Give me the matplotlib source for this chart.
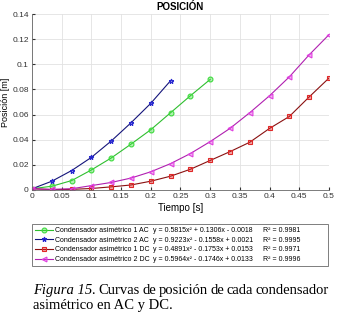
import matplotlib.pyplot as plt

plt.rcParams['font.family'] = ['Liberation Sans', 'DejaVu Sans']

# tiempo [s], muestras cada 1/30 s
t = [i / 30 for i in range(16)]

pos_1ac = [0.001, 0.003, 0.0075, 0.016, 0.0255, 0.0365, 0.048, 0.0615, 0.075, 0.088]
pos_2ac = [0.001, 0.007, 0.0155, 0.026, 0.039, 0.0535, 0.069, 0.087]
pos_1dc = [0.001, 0.0003, 0.0005, 0.0012, 0.0025, 0.004, 0.007, 0.011,
           0.0165, 0.0235, 0.0305, 0.038, 0.049, 0.0585, 0.074, 0.089]
pos_2dc = [0.001, 0.0005, 0.001, 0.0035, 0.006, 0.0095, 0.0145, 0.021,
           0.029, 0.0385, 0.049, 0.0615, 0.075, 0.09, 0.1075, 0.1235]

names = ["Condensador asimétrico 1 AC", "Condensador asimétrico 2 AC",
         "Condensador asimétrico 1 DC", "Condensador asimétrico 2 DC"]
equations = ["y = 0.5815x² + 0.1306x - 0.0018", "y = 0.9223x² - 0.1558x + 0.0021",
             "y = 0.4891x² - 0.1753x + 0.0153", "y = 0.5964x² - 0.1746x + 0.0133"]
r2 = ["R² = 0.9981", "R² = 0.9995", "R² = 0.9971", "R² = 0.9996"]

xticks = [0, 0.05, 0.1, 0.15, 0.2, 0.25, 0.3, 0.35, 0.4, 0.45, 0.5]
xticklabels = ["0", "0.05", "0.1", "0.15", "0.2", "0.25", "0.3", "0.35", "0.4", "0.45", "0.5"]
yticks = [0, 0.02, 0.04, 0.06, 0.08, 0.1, 0.12, 0.14]
yticklabels = ["0", "0.02", "0.04", "0.06", "0.08", "0.1", "0.12", "0.14"]

caption_bold = "Figura 15."
caption_1 = "Curvas de posición de cada condensador"
caption_2 = "asimétrico en AC y DC."

fig = plt.figure(figsize=(3.38, 3.13), dpi=100)
ax = fig.add_axes([0.095, 0.393, 0.878, 0.562])

series = [(pos_1ac, '#3ddc3d', '#2fbf2f', 'o'),
          (pos_2ac, '#2828d0', '#14147a', '*'),
          (pos_1dc, '#e02828', '#8a1010', 's'),
          (pos_2dc, '#e040e0', '#b020b0', '<')]
handles = []
for y, c, lc, m in series:
    h, = ax.plot(t[:len(y)], y, color=lc, lw=0.8, marker=m, ms=3.5,
                 mfc=c + '66', mec=c, mew=0.8)
    handles.append(h)

ax.set_xlim(0, 0.5)
ax.set_ylim(0, 0.14)
ax.set_xticks(xticks)
ax.set_xticklabels(xticklabels)
ax.set_yticks(yticks)
ax.set_yticklabels(yticklabels)
ax.tick_params(labelsize=6, length=2, direction='in', colors='#333333', pad=2.5)
ax.grid(True, color='#e2e2e2', lw=0.6)
for s in ['top', 'right']:
    ax.spines[s].set_visible(False)
for s in ['left', 'bottom']:
    ax.spines[s].set_color('#666666')
    ax.spines[s].set_linewidth(0.6)
ax.set_title("POSICIÓN", fontsize=7, fontweight='bold', pad=3)
ax.set_xlabel("Tiempo [s]", fontsize=7, labelpad=2)
ax.set_ylabel("Posición [m]", fontsize=6.5, labelpad=1.5)

leg = fig.legend(handles, names, loc='center left',
                 bbox_to_anchor=(0.0947, 0.1438, 0.876, 0.147), mode='expand',
                 fontsize=5, handlelength=2.6, handletextpad=0.3,
                 labelspacing=0.38, borderpad=0.45, borderaxespad=0,
                 fancybox=False, frameon=True)
leg.get_frame().set_edgecolor('#444444')
leg.get_frame().set_linewidth(0.6)

# columnas extra de la leyenda (ecuación y R²) alineadas con cada fila
fig.canvas.draw()
inv = fig.transFigure.inverted()
for txt, eq, r in zip(leg.get_texts(), equations, r2):
    bb = txt.get_window_extent()
    yc = inv.transform((0, (bb.y0 + bb.y1) / 2))[1]
    fig.text(0.4527, yc, eq, fontsize=5, va='center', zorder=10)
    fig.text(0.778, yc, r, fontsize=5, va='center', zorder=10)

# pie de figura, primera línea justificada
serif = dict(fontsize=10.5, family='Liberation Serif')
y1, y2 = 0.062, 0.013
x0, x1 = 0.098, 0.972
words = [(caption_bold, 'italic')] + [(w, 'normal') for w in caption_1.split()]
objs = [fig.text(x0, y1, w, style=st, **serif) for w, st in words]
fig.canvas.draw()
r = fig.canvas.get_renderer()
widths = [inv.transform((o.get_window_extent(r).width, 0))[0] - inv.transform((0, 0))[0]
          for o in objs]
gap = (x1 - x0 - sum(widths)) / (len(objs) - 1)
xpos = x0
for o, w in zip(objs, widths):
    o.set_x(xpos)
    xpos += w + gap
fig.text(x0, y2, caption_2, **serif)

fig.savefig("out.png", dpi=100)
